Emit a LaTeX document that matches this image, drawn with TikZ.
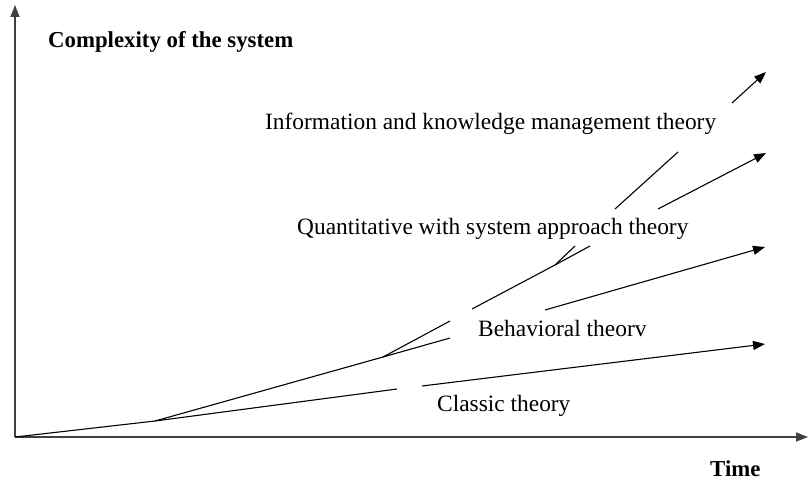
\documentclass[tikz,border=0pt]{standalone}
\usepackage{fontspec}
\setmainfont{Liberation Serif}
\usetikzlibrary{arrows.meta}

\begin{document}
\begin{tikzpicture}[x=1pt,y=-1pt,
		axis/.style = {draw=black!75, line width=1.6pt},
		branch/.style = {line width=1.1pt},
		tip/.style = {-{Triangle[length=12pt,width=9pt]}},
		label/.style = {inner sep=0pt, anchor=base west, font=\fontsize{23.4}{27}\selectfont},
		title/.style = {label, font=\fontsize{22.8}{27}\selectfont\bfseries}]
		\useasboundingbox (0,0) rectangle (810,481);
		
		\coordinate (O) at (15,437);
		\coordinate (Top) at (15,5);
		\coordinate (Right) at (808,437);
		
		% branching points
		\coordinate (A) at (155,421);
		\coordinate (B) at (383,357);
		\coordinate (C) at (555,265);
		
		% classic
		\coordinate (c1) at (397,389);
		\coordinate (c2) at (422,386);
		\coordinate (cEnd) at (765,344);
		% behavioral
		\coordinate (b1) at (450,338);
		\coordinate (b2) at (545,310);
		\coordinate (bEnd) at (765,247);
		% up to the quantitative branch
		\coordinate (q1) at (450,321);
		\coordinate (q2) at (472,309);
		% quantitative
		\coordinate (s1) at (590,246);
		\coordinate (s2) at (658,209);
		\coordinate (sEnd) at (766,153);
		% information
		\coordinate (i1) at (575,246);
		\coordinate (i2) at (615,209);
		\coordinate (i3) at (678,152);
		\coordinate (i4) at (732,103);
		\coordinate (iEnd) at (766,72);
		
		\draw[axis,tip] (O) -- (Top);
		\draw[axis,tip] (O) -- (Right);
		
		\draw[branch] (O) -- (A) -- (B);
		\draw[branch] (A) -- (c1);
		\draw[branch,tip] (c2) -- (cEnd);
		\draw[branch] (B) -- (b1);
		\draw[branch,tip] (b2) -- (bEnd);
		\draw[branch] (B) -- (q1);
		\draw[branch] (q2) -- (C);
		\draw[branch] (C) -- (s1);
		\draw[branch,tip] (s2) -- (sEnd);
		\draw[branch] (C) -- (i1);
		\draw[branch] (i2) -- (i3);
		\draw[branch,tip] (i4) -- (iEnd);
		
		\node[title] (complexity) at (48,48) {Complexity of the system};
		\node[title] (time) at (710,476) {Time};
		\node[label] (info) at (265,130) {Information and knowledge management theory};
		\node[label] (quant) at (297,234) {Quantitative with system approach theory};
		\node[label] (behav) at (478,336) {Behavioral theorv};
		\node[label] (classic) at (437,411) {Classic theory};
	\end{tikzpicture}
\end{document}
